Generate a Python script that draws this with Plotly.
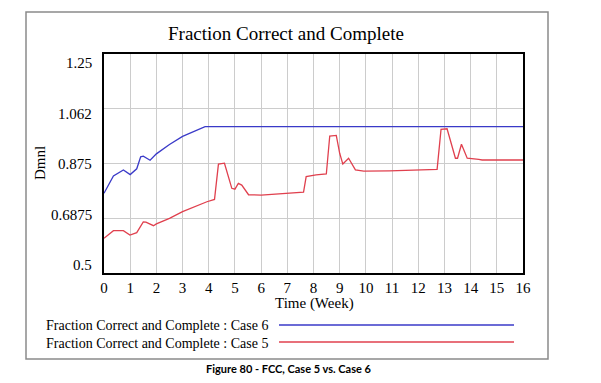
import plotly.graph_objects as go

# ---- data ----
case6_time = [0, 0.36, 0.74, 1.0, 1.25, 1.4, 1.5, 1.76, 2.0, 2.5, 3.0, 3.4, 3.65, 3.86, 16]
case6_value = [0.773, 0.832, 0.853, 0.837, 0.857, 0.898, 0.900, 0.886, 0.908, 0.940,
               0.968, 0.984, 0.993, 1.001, 1.001]

case5_time = [0, 0.36, 0.74, 0.99, 1.25, 1.5, 1.6, 1.89, 2.0, 2.5, 3.0, 3.5, 3.93, 4.22,
              4.37, 4.6, 4.88, 5.0, 5.13, 5.26, 5.52, 6.0, 7.0, 7.62, 7.72, 8.1, 8.49,
              8.62, 8.87, 9.0, 9.12, 9.34, 9.6, 9.92, 10.9, 12.2, 12.33, 12.72, 12.87,
              13.1, 13.42, 13.5, 13.65, 13.87, 14.31, 14.44, 16]
case5_value = [0.619, 0.645, 0.645, 0.630, 0.638, 0.675, 0.674, 0.662, 0.668, 0.687,
               0.710, 0.729, 0.744, 0.752, 0.873, 0.876, 0.790, 0.787, 0.807, 0.801,
               0.768, 0.767, 0.774, 0.777, 0.830, 0.836, 0.839, 0.969, 0.971, 0.910,
               0.873, 0.893, 0.853, 0.849, 0.850, 0.853, 0.855, 0.855, 0.992, 0.994,
               0.893, 0.893, 0.941, 0.893, 0.889, 0.887, 0.887]

y_tickvals = [0.5, 0.6875, 0.875, 1.0625, 1.25]
y_ticktext = ["0.5", "0.6875", "0.875", "1.062", "1.25"]
x_tickvals = list(range(0, 17))

series_names = ["Fraction Correct and Complete : Case 6",
                "Fraction Correct and Complete : Case 5"]
blue = "#3a3ac8"
red = "#e0404e"
serif = "Liberation Serif"

fig = go.Figure()
fig.add_trace(go.Scatter(x=case6_time, y=case6_value, mode="lines",
                         line=dict(color=blue, width=1.3), name=series_names[0],
                         showlegend=False))
fig.add_trace(go.Scatter(x=case5_time, y=case5_value, mode="lines",
                         line=dict(color=red, width=1.3), name=series_names[1],
                         showlegend=False))

# page body margin offset (browser default)
OFF = 8
FW, FH = 601 - OFF, 383 - OFF
# plot box in screenshot pixels
L, R, T, B = 104, 523, 54, 273
W, H = R - L, B - T
def px(x):
    return (x - L) / W
def py(y):
    return (B - y) / H

fig.update_layout(
    width=FW, height=FH,
    margin=dict(l=L - OFF, r=FW - (R - OFF), t=T - OFF, b=FH - (B - OFF)),
    paper_bgcolor="white", plot_bgcolor="white",
    font=dict(family=serif, color="black", size=14),
    xaxis=dict(range=[0, 16], tickvals=x_tickvals, showgrid=True,
               gridcolor="#cccccc", gridwidth=1, zeroline=False,
               showline=True, linecolor="black", linewidth=2, mirror=True,
               ticks="", tickfont=dict(family=serif, size=15)),
    yaxis=dict(range=[0.5, 1.25], tickvals=y_tickvals, showticklabels=False,
               showgrid=True, gridcolor="#cccccc", gridwidth=1, zeroline=False,
               showline=True, linecolor="black", linewidth=2, mirror=True,
               ticks=""),
)

annotations = [
    dict(text="Fraction Correct and Complete", x=px(286), y=py(33),
         font=dict(family=serif, size=19)),
    dict(text="Time (Week)", x=px(314), y=py(303), font=dict(family=serif, size=15)),
    dict(text="Dmnl", x=px(40), y=py(163), textangle=-90, font=dict(family=serif, size=15)),
    dict(text=series_names[0], x=px(270), y=py(325), xanchor="right",
         font=dict(family=serif, size=14)),
    dict(text=series_names[1], x=px(270), y=py(343), xanchor="right",
         font=dict(family=serif, size=14)),
    dict(text="<b>Figure 80 - FCC, Case 5 vs. Case 6</b>", x=px(289), y=py(368),
         font=dict(family="Lato", size=11)),
]
# y tick labels, placed the way the original chart tool spaces them
for i, lab in enumerate(y_ticktext):
    annotations.append(dict(text=lab, x=px(94), y=py(265 - i * 50.5), xanchor="right",
                            font=dict(family=serif, size=15)))
for a in annotations:
    a.update(xref="paper", yref="paper", showarrow=False)
    a.setdefault("xanchor", "center")
    a.setdefault("yanchor", "middle")
fig.update_layout(annotations=annotations)

shapes = [
    dict(type="rect", x0=px(26), x1=px(548), y0=py(12), y1=py(359),
         line=dict(color="#8a8a8a", width=1.5), layer="below"),
    dict(type="line", x0=px(279), x1=px(514), y0=py(325), y1=py(325),
         line=dict(color=blue, width=1.3)),
    dict(type="line", x0=px(279), x1=px(514), y0=py(342), y1=py(342),
         line=dict(color=red, width=1.3)),
]
for s in shapes:
    s.update(xref="paper", yref="paper")
fig.update_layout(shapes=shapes)

fig.write_html("out.html")
